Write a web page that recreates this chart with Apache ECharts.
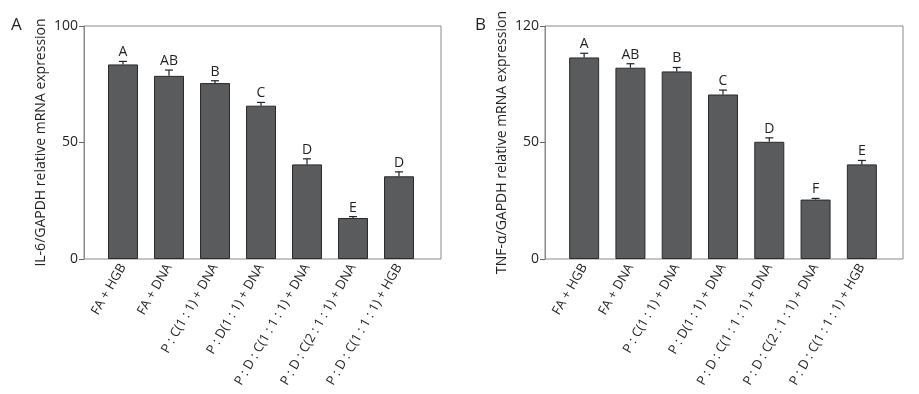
<!DOCTYPE html>
<html><head><meta charset="utf-8">
<script src="https://cdn.jsdelivr.net/npm/echarts@6/dist/echarts.min.js"></script>
<style>html,body{margin:0;padding:0;background:#fff}#c{width:919px;height:394px}</style>
</head><body><div id="c"></div>
<script>
var categories = ['FA + HGB','FA + DNA','P : C(1 : 1) + DNA','P : D(1 : 1) + DNA','P : D : C(1 : 1 : 1) + DNA','P : D : C(2 : 1 : 1) + DNA','P : D : C(1 : 1 : 1) + HGB'];
var il6Values = [83.5, 78.6, 75.5, 65.8, 40.6, 17.6, 35.5];
var il6Errors = [1.3, 2.5, 1.0, 1.4, 2.4, 0.6, 1.9];
var il6Letters = ['A','AB','B','C','D','E','D'];
var tnfValues = [86.5, 82.1, 80.5, 70.6, 50.3, 25.5, 40.6];
var tnfErrors = [1.8, 1.7, 1.7, 1.9, 1.7, 0.5, 1.7];
var tnfLetters = ['A','AB','B','C','D','F','E'];
var il6Ticks = ['0','50','100'];
var tnfTicks = ['0','50','120'];
var il6Title = 'IL-6/GAPDH relative mRNA expression';
var tnfTitle = 'TNF-\u03b1/GAPDH relative mRNA expression';

var FONT = '"Open Sans", "Noto Sans", sans-serif';
var TXT = '#231f20';
var chart = echarts.init(document.getElementById('c'));

function tickFmt(arr){ return function(v){ return arr[Math.round(v/50)]; }; }

function errSeries(xi, yi, vals, errs, letters){
  return {
    type:'custom', xAxisIndex:xi, yAxisIndex:yi, z:5,
    data: vals.map(function(v,i){ return [i, v, errs[i]]; }),
    renderItem: function(params, api){
      var i = api.value(0), v = api.value(1), e = api.value(2);
      var p0 = api.coord([i, v]);
      var p1 = api.coord([i, v + e]);
      var cw = 4;
      return { type:'group', children:[
        {type:'line', shape:{x1:p0[0], y1:p0[1], x2:p1[0], y2:p1[1]}, style:{stroke:'#222', lineWidth:1.2}},
        {type:'line', shape:{x1:p1[0]-cw, y1:p1[1], x2:p1[0]+cw, y2:p1[1]}, style:{stroke:'#222', lineWidth:1.2}},
        {type:'text', style:{text:letters[params.dataIndex], x:p1[0], y:p1[1]-2, textAlign:'center', textVerticalAlign:'bottom', font:'14px '+FONT, fill:TXT}}
      ]};
    }
  };
}

var frameGrid = {show:true, borderColor:'#8a8a8a', borderWidth:1, backgroundColor:'transparent'};
var option = {
  animation:false,
  grid:[
    Object.assign({left:84, width:357, top:26, height:233}, frameGrid),
    {left:100, width:322, top:26, height:233},
    Object.assign({left:545, width:358, top:26, height:233}, frameGrid),
    {left:561, width:324, top:26, height:233}
  ],
  title:[
    {text:'A', left:6, top:12, textStyle:{fontSize:17, fontWeight:'normal', color:TXT, fontFamily:FONT}},
    {text:'B', left:470, top:12, textStyle:{fontSize:17, fontWeight:'normal', color:TXT, fontFamily:FONT}}
  ],
  xAxis:[
    {gridIndex:0, type:'value', min:0, max:1, show:false},
    {gridIndex:1, type:'category', data:categories, axisLine:{show:false}, axisTick:{show:false},
      axisLabel:{rotate:60, margin:6, fontSize:13, color:TXT, fontFamily:FONT, interval:0}},
    {gridIndex:2, type:'value', min:0, max:1, show:false},
    {gridIndex:3, type:'category', data:categories, axisLine:{show:false}, axisTick:{show:false},
      axisLabel:{rotate:60, margin:6, fontSize:13, color:TXT, fontFamily:FONT, interval:0}}
  ],
  yAxis:[
    {gridIndex:0, type:'value', min:0, max:100, interval:50,
      axisLine:{show:true, lineStyle:{color:'#8a8a8a'}}, axisTick:{show:true, length:5, lineStyle:{color:'#666'}},
      splitLine:{show:false}, axisLabel:{formatter:tickFmt(il6Ticks), fontSize:14, color:TXT, fontFamily:FONT, margin:6},
      name:il6Title, nameLocation:'middle', nameGap:36, nameTextStyle:{fontSize:14, color:TXT, fontFamily:FONT}},
    {gridIndex:1, type:'value', min:0, max:100, show:false},
    {gridIndex:2, type:'value', min:0, max:100, interval:50,
      axisLine:{show:true, lineStyle:{color:'#8a8a8a'}}, axisTick:{show:true, length:5, lineStyle:{color:'#666'}},
      splitLine:{show:false}, axisLabel:{formatter:tickFmt(tnfTicks), fontSize:14, color:TXT, fontFamily:FONT, margin:6},
      name:tnfTitle, nameLocation:'middle', nameGap:36, nameTextStyle:{fontSize:14, color:TXT, fontFamily:FONT}},
    {gridIndex:3, type:'value', min:0, max:100, show:false}
  ],
  series:[
    {type:'bar', xAxisIndex:1, yAxisIndex:1, data:il6Values, barWidth:30,
      itemStyle:{color:'#5a5b5d', borderColor:'#2a2a2a', borderWidth:1}},
    errSeries(1, 1, il6Values, il6Errors, il6Letters),
    {type:'bar', xAxisIndex:3, yAxisIndex:3, data:tnfValues, barWidth:30,
      itemStyle:{color:'#5a5b5d', borderColor:'#2a2a2a', borderWidth:1}},
    errSeries(3, 3, tnfValues, tnfErrors, tnfLetters)
  ]
};
chart.setOption(option);
</script></body></html>
